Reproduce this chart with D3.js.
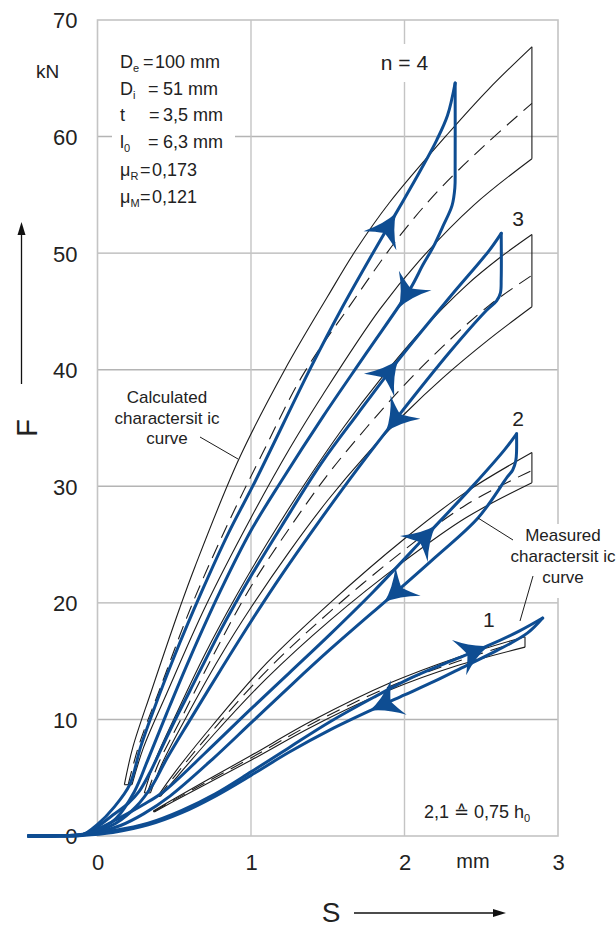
<!DOCTYPE html>
<html><head><meta charset="utf-8">
<script src="https://cdn.jsdelivr.net/npm/d3@7"></script>
<style>
body{margin:0;background:#fff}
svg{display:block}
text{font-family:"Liberation Sans",Arial,Helvetica,sans-serif;fill:#222}
</style>
</head><body>
<svg id="chart" width="616" height="927"></svg>
<script>
// ---------- data (S in mm, F in kN) ----------
const fTicks = [0,10,20,30,40,50,60,70];
const sTicks = [0,1,2,3];

// calculated characteristic curves (upper / mean (dashed) / lower)
const calc4Upper = [[0.175,4.4],[0.23,7.6],[0.35,12.4],[0.537,19.6],[0.635,23.1],[0.92,32.3],[1.22,40],[1.5,46.3],[1.68,50.2],[1.9,54.3],[2.28,60.2],[2.55,64.1],[2.83,67.7]];
const calc4Mid   = [[0.2,4.4],[0.27,7.8],[0.4,12.4],[0.614,19.8],[0.85,26.8],[1.07,32.7],[1.34,39.6],[1.65,45.6],[1.97,51.5],[2.23,55.5],[2.535,59.4],[2.83,62.85]];
const calc4Lower = [[0.225,4.4],[0.3,7.6],[0.45,12.2],[0.7,19.6],[1.0,27.3],[1.25,33.2],[1.47,37.9],[1.84,45.2],[2.1,49.4],[2.45,54.1],[2.83,58.1]];

const calc3Upper = [[0.305,3.7],[0.37,6.3],[0.5,10.1],[0.7,15.6],[0.9,20.5],[1.1,25],[1.35,30.2],[1.6,35],[1.85,39.3],[2.1,43.2],[2.4,47.2],[2.62,49.6],[2.83,51.6]];
const calc3Mid   = [[0.325,3.7],[0.4,6.3],[0.55,10.2],[0.75,15.4],[1.0,21.4],[1.25,26.4],[1.5,31.0],[1.75,35.0],[2.0,38.7],[2.25,42],[2.55,45.5],[2.83,48.1]];
const calc3Lower = [[0.345,3.7],[0.42,6.2],[0.57,10.0],[0.8,15.4],[1.0,19.6],[1.25,24.4],[1.5,28.8],[1.75,32.7],[2.0,36.2],[2.25,39.3],[2.55,42.6],[2.83,45.4]];

const calc2Upper = [[0.392,3.4],[0.5,5.4],[0.75,9.5],[1.1,14.8],[1.515,20.0],[2.0,25.5],[2.4,29.5],[2.83,32.9]];
const calc2Mid   = [[0.4,3.4],[0.51,5.25],[0.75,9.05],[1.1,14.15],[1.515,19.25],[2.0,24.55],[2.4,28.4],[2.82,31.3]];
const calc2Lower = [[0.41,3.4],[0.52,5.1],[0.75,8.6],[1.1,13.5],[1.515,18.5],[2.0,23.6],[2.4,27.3],[2.83,30.3]];

const calc1Upper = [[0.364,2.15],[0.5,3.2],[0.7,4.7],[1.0,6.9],[1.4,9.9],[1.9,13.1],[2.34,15.3],[2.785,17.1]];
const calc1Mid   = [[0.367,2.1],[0.5,3.1],[0.7,4.55],[1.0,6.7],[1.4,9.65],[1.9,12.8],[2.34,14.95],[2.7,16.5]];
const calc1Lower = [[0.37,2.05],[0.5,3.0],[0.7,4.4],[1.0,6.5],[1.4,9.4],[1.9,12.5],[2.34,14.6],[2.785,16.2]];

// measured hysteresis loops: loading branch and unloading branch
const load4 = [[-0.45,0],[-0.25,0.02],[-0.1,0.1],[0.0,1.0],[0.11,2.5],[0.21,4.4],[0.28,7.6],[0.36,10.6],[0.5,15.4],[0.68,21],[0.85,25.9],[1.03,30.5],[1.39,40.2],[1.58,45],[1.82,50.6],[1.97,54],[2.1,57],[2.21,59.7],[2.28,61.8],[2.33,64.6]];
const unload4 = [[2.33,64.6],[2.33,57.5],[2.328,55.6],[2.31,54.1],[2.25,52.3],[2.19,50.6],[2.12,49],[2.04,47],[1.75,41.4],[1.47,36.0],[1.2,30.5],[1.0,26.2],[0.8,21],[0.6,15.2],[0.45,10.5],[0.33,6.6],[0.24,3.8],[0.12,1.5],[0.0,0.5],[-0.12,0.1],[-0.25,0.02],[-0.45,0]];

const load3 = [[-0.45,0],[-0.25,0.02],[-0.1,0.1],[0.0,0.8],[0.1,1.8],[0.2,2.8],[0.27,3.8],[0.34,5.4],[0.42,7.6],[0.5,9.8],[0.6,12.4],[0.8,17.6],[0.9,20],[1.0,22.3],[1.2,26.6],[1.46,32.0],[1.7,36.3],[1.97,41],[2.3,46.3],[2.55,50.2],[2.63,51.7]];
const unload3 = [[2.63,51.7],[2.63,47.8],[2.625,46.6],[2.6,45.9],[2.535,45.1],[2.3,41.6],[1.94,35.7],[1.7,31.6],[1.45,27.1],[1.2,22.4],[1.0,18.4],[0.8,14.2],[0.6,9.9],[0.45,6.6],[0.36,4.4],[0.25,2.5],[0.12,1.1],[0.0,0.4],[-0.12,0.08],[-0.25,0.02],[-0.45,0]];

const load2 = [[-0.45,0],[-0.25,0.02],[-0.1,0.1],[0.0,0.6],[0.15,1.6],[0.3,2.7],[0.43,3.8],[0.7,7.1],[1.0,10.9],[1.25,14.0],[1.515,17.3],[1.8,21.0],[2.13,25.6],[2.45,30.1],[2.65,33.1],[2.73,34.5]];
const unload2 = [[2.73,34.5],[2.73,33.0],[2.725,32.2],[2.705,31.4],[2.67,30.8],[2.48,27.3],[2.2,23.9],[1.96,21.1],[1.515,16.0],[1.25,12.8],[1.0,9.7],[0.75,6.6],[0.47,3.4],[0.3,1.9],[0.15,0.9],[0.0,0.3],[-0.12,0.06],[-0.25,0.02],[-0.45,0]];

const load1 = [[-0.45,0],[-0.25,0.02],[-0.1,0.1],[0.1,0.45],[0.33,1.1],[0.55,2.2],[0.765,3.6],[1.0,5.5],[1.25,7.6],[1.515,9.8],[1.8,11.9],[2.05,13.6],[2.3,15.0],[2.54,16.3],[2.75,17.6],[2.9,18.7]];
const unload1 = [[2.9,18.7],[2.8,17.4],[2.6,15.9],[2.4,14.6],[2.2,13.3],[2.0,12.1],[1.8,10.9],[1.515,9.1],[1.25,7.2],[1.0,5.2],[0.765,3.4],[0.55,2.0],[0.33,0.95],[0.1,0.3],[-0.1,0.05],[-0.25,0.01],[-0.45,0]];

// arrow positions (S at which direction arrows sit) for n = 1..4
const loadArrowS   = [2.41, 2.10, 1.87, 1.87];
const unloadArrowS = [1.91, 1.98, 1.97, 2.04];

// labels
const loopLabels = ["1","2","3","n = 4"];
const loopLabelPos = [[2.55,17.9],[2.74,35.2],[2.74,52.3],[2.0,65.7]];
const paramLabels = [["D","e","=","100 mm"],["D","i","=","51 mm"],["t","","=","3,5 mm"],["l","0","=","6,3 mm"],["μ","R","=","0,173"],["μ","M","=","0,121"]];
const calcLabel = ["Calculated","charactersit ic","curve"];
const measLabel = ["Measured","charactersit ic","curve"];

// ---------- drawing ----------
const svg = d3.select("#chart");
const x = d3.scaleLinear().domain([0,3]).range([97.5,558]);
const y = d3.scaleLinear().domain([0,70]).range([836,20]);
const BLUE = "#0e4d92", INK = "#1c1c1c", GRID = "#b4b4b4";

const g = svg.append("g");
// grid
g.selectAll("line.hg").data(fTicks.filter(v=>v>0 && v<70)).join("line")
  .attr("x1",x(0)).attr("x2",x(3)).attr("y1",d=>y(d)).attr("y2",d=>y(d))
  .attr("stroke",GRID).attr("stroke-width",1.4);
g.selectAll("line.vg").data(sTicks.filter(v=>v>0 && v<3)).join("line")
  .attr("y1",y(0)).attr("y2",y(70)).attr("x1",d=>x(d)).attr("x2",d=>x(d))
  .attr("stroke","#c4c4c4").attr("stroke-width",1.4);
g.append("rect").attr("x",x(0)).attr("y",y(70)).attr("width",x(3)-x(0)).attr("height",y(0)-y(70))
  .attr("fill","none").attr("stroke","#c4c4c4").attr("stroke-width",1.6);

// axes labels via d3 axes
const ay = g.append("g").attr("transform",`translate(${x(0)},0)`)
  .call(d3.axisLeft(y).tickValues(fTicks).tickSize(0).tickPadding(20).tickFormat(d3.format("d")));
ay.select(".domain").remove();
ay.selectAll("text").attr("font-size",22).attr("fill","#222").attr("dy","0.36em")
  .style("font-family",'"Liberation Sans",Arial,sans-serif');
const ax = g.append("g").attr("transform",`translate(0,${y(0)})`)
  .call(d3.axisBottom(x).tickValues(sTicks).tickSize(0).tickPadding(18).tickFormat(d3.format("d")));
ax.select(".domain").remove();
ax.selectAll("text").attr("font-size",22).attr("fill","#222")
  .style("font-family",'"Liberation Sans",Arial,sans-serif');

const line = d3.line().x(d=>x(d[0])).y(d=>y(d[1])).curve(d3.curveCatmullRom.alpha(0.5));

// calculated envelopes
const calcSets = [
  [calc1Upper,calc1Mid,calc1Lower],
  [calc2Upper,calc2Mid,calc2Lower],
  [calc3Upper,calc3Mid,calc3Lower],
  [calc4Upper,calc4Mid,calc4Lower]
];
calcSets.forEach(([u,m,l])=>{
  g.append("path").attr("d",line(u)).attr("fill","none").attr("stroke",INK).attr("stroke-width",1.1);
  g.append("path").attr("d",line(l)).attr("fill","none").attr("stroke",INK).attr("stroke-width",1.1);
  g.append("path").attr("d",line(m)).attr("fill","none").attr("stroke",INK).attr("stroke-width",1.1)
    .attr("stroke-dasharray","14,8");
  const ue=u[u.length-1], le=l[l.length-1], us=u[0], ls=l[0];
  g.append("line").attr("x1",x(ue[0])).attr("y1",y(ue[1])).attr("x2",x(le[0])).attr("y2",y(le[1]))
    .attr("stroke",INK).attr("stroke-width",1.1);
  g.append("line").attr("x1",x(us[0])).attr("y1",y(us[1])).attr("x2",x(ls[0])).attr("y2",y(ls[1]))
    .attr("stroke",INK).attr("stroke-width",1.1);
});

// measured loops
// swept arrowhead: origin at the notch on the curve, pointing along +x
const arrowPath = "M23,0 Q7,-5 -9,-19 Q-3,-8 0,0 Q-3,8 -9,19 Q7,5 23,0Z";
function placeArrow(node, sVal){
  const L = node.getTotalLength(), tx = x(sVal);
  let best=0, bd=1e9;
  for(let t=0;t<=L;t+=0.5){ const p=node.getPointAtLength(t); const d=Math.abs(p.x-tx); if(d<bd){bd=d;best=t;} }
  const p=node.getPointAtLength(best), a=node.getPointAtLength(Math.max(0,best-4)), b=node.getPointAtLength(Math.min(L,best+4));
  const ang = Math.atan2(b.y-a.y,b.x-a.x)*180/Math.PI;
  g.append("path").attr("d",arrowPath).attr("fill",BLUE)
    .attr("transform",`translate(${p.x},${p.y}) rotate(${ang})`);
}
const loops = [[load1,unload1],[load2,unload2],[load3,unload3],[load4,unload4]];
loops.forEach(([ld,ul],i)=>{
  const pl = g.append("path").attr("d",line(ld)).attr("fill","none").attr("stroke",BLUE)
    .attr("stroke-width",3).attr("stroke-linejoin","round").attr("stroke-linecap","round");
  const pu = g.append("path").attr("d",line(ul)).attr("fill","none").attr("stroke",BLUE)
    .attr("stroke-width",3).attr("stroke-linejoin","round").attr("stroke-linecap","round");
  placeArrow(pl.node(), loadArrowS[i]);
  placeArrow(pu.node(), unloadArrowS[i]);
});

// parameter box
g.append("rect").attr("x",112).attr("y",44).attr("width",123).attr("height",168).attr("fill","#fff");
const pRows=[68,94.6,121.3,148,176.3,203];
const eqX=[143,148,149,148,140,140], valX=[155,163,163,163,152,152];
paramLabels.forEach((r,i)=>{
  const t=g.append("text").attr("x",120).attr("y",pRows[i]).attr("font-size",18);
  t.append("tspan").text(r[0]);
  if(r[1]) t.append("tspan").attr("font-size",11).attr("dy",4).text(r[1]);
  t.append("tspan").attr("x",eqX[i]).attr("y",pRows[i]).text(r[2]);
  t.append("tspan").attr("x",valX[i]).attr("y",pRows[i]).text(r[3]);
});

// n labels
g.append("rect").attr("x",378).attr("y",44).attr("width",54).attr("height",38).attr("fill","#fff");
loopLabels.forEach((s,i)=>{
  g.append("text").attr("x",x(loopLabelPos[i][0])).attr("y",y(loopLabelPos[i][1]))
    .attr("text-anchor","middle").attr("font-size",21).text(s);
});

// calc label
calcLabel.forEach((s,i)=>{
  g.append("text").attr("x",167).attr("y",403+i*20.6).attr("text-anchor","middle").attr("font-size",17).text(s);
});
g.append("line").attr("x1",200).attr("y1",437).attr("x2",238).attr("y2",459).attr("stroke",INK).attr("stroke-width",1);

// measured label
g.append("rect").attr("x",505).attr("y",524).attr("width",111).attr("height",74).attr("fill","#fff");
measLabel.forEach((s,i)=>{
  g.append("text").attr("x",563).attr("y",541+i*21).attr("text-anchor","middle").attr("font-size",17).text(s);
});
g.append("line").attr("x1",513).attr("y1",540).attr("x2",478).attr("y2",518).attr("stroke",INK).attr("stroke-width",1);
g.append("line").attr("x1",533).attr("y1",576).attr("x2",520).attr("y2",621).attr("stroke",INK).attr("stroke-width",1);

// h0 note
const h = g.append("text").attr("x",424).attr("y",818).attr("font-size",18);
h.append("tspan").text("2,1 \u2259 0,75 h");
h.append("tspan").attr("font-size",11).attr("dy",4).text("0");

// units
g.append("text").attr("x",47.5).attr("y",78).attr("text-anchor","middle").attr("font-size",19).text("kN");
g.append("text").attr("x",473).attr("y",868).attr("text-anchor","middle").attr("font-size",20).text("mm");

// axis titles with arrows
g.append("text").attr("transform","translate(37,428) rotate(-90)").attr("text-anchor","middle").attr("font-size",29).text("F");
g.append("line").attr("x1",21.5).attr("y1",384).attr("x2",21.5).attr("y2",232).attr("stroke","#111").attr("stroke-width",1.3);
g.append("path").attr("d","M21.5,222 L25.5,235 L17.5,235Z").attr("fill","#111");
g.append("text").attr("x",331).attr("y",922).attr("text-anchor","middle").attr("font-size",28).text("S");
g.append("line").attr("x1",354).attr("y1",913).attr("x2",495).attr("y2",913).attr("stroke","#111").attr("stroke-width",1.3);
g.append("path").attr("d","M506,913 L493,917 L493,909Z").attr("fill","#111");
</script>
</body></html>
